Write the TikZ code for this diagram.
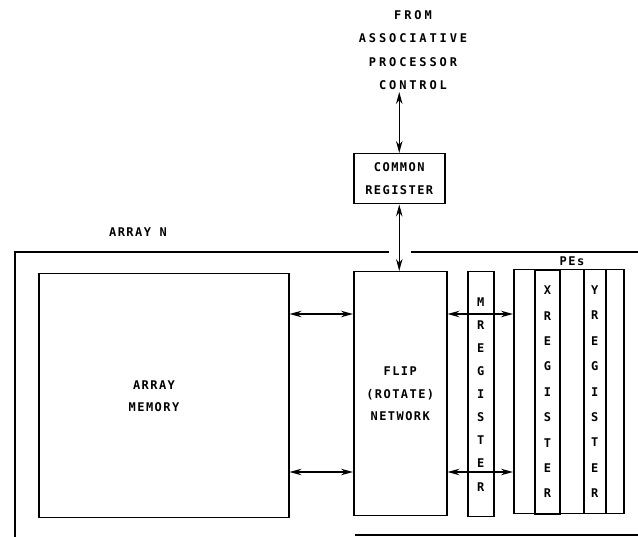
\documentclass[tikz,border=0pt]{standalone}
\usepackage{fontspec}
\newfontfamily\lblfont[LetterSpace=12]{DejaVu Sans Mono}
\newfontfamily\topfont[LetterSpace=24]{DejaVu Sans Mono}
\usetikzlibrary{arrows.meta,positioning}

\tikzset{
  blk/.style={draw,line width=1.5pt,inner sep=0pt,anchor=north west,align=center,font=\lblfont\bfseries\fontsize{12}{22.5}\selectfont},
  col/.style={blk,font=\lblfont\bfseries\fontsize{12}{25.4}\selectfont},
  txt/.style={align=center,inner sep=2pt,font=\lblfont\bfseries\fontsize{12}{22.5}\selectfont},
  conn/.style={{Stealth[length=12pt,width=6.5pt]}-{Stealth[length=12pt,width=6.5pt]},line width=1.3pt},
  frame/.style={line width=1.5pt}
}

\begin{document}
\begin{tikzpicture}[x=1pt,y=-1pt]
\useasboundingbox (0,0) rectangle (638,537);
% outer frame of the array
\draw[frame](15,537)--(15,252)--(389,252) (411,252)--(638,252)
(355,535)--(638,535);
\node[txt](arrayn) at (138,232) {ARRAY N};
% source of the control path
\node[txt,font=\topfont\bfseries\fontsize{12}{23.5}\selectfont](ctl) at (413,50) {FROM\\ASSOCIATIVE\\PROCESSOR\\CONTROL};
\node[blk,minimum width=91pt,minimum height=50pt](common) at (353,153) {COMMON\\REGISTER};
% boxes inside the array
\node[blk,minimum width=250pt,minimum height=244pt](mem) at (38,273) {};
\node[txt](memlbl) at (154,396) {ARRAY\\MEMORY};
\node[blk,minimum width=93pt,minimum height=244pt](flip) at (353,271) {FLIP\\(ROTATE)\\NETWORK};
\node[blk,minimum width=26pt,minimum height=245pt,font=\lblfont\bfseries\fontsize{12}{23.1}\selectfont](mreg) at (467,271) {M\\R\\E\\G\\I\\S\\T\\E\\R};
\node[blk,minimum width=110pt,minimum height=244pt](pes) at (513,269) {};
\node[txt,anchor=south](peslbl) at (572,268) {PEs};
\node[col,line width=2pt,minimum width=25pt,minimum height=244pt](xreg) at (534,269) {X\\R\\E\\G\\I\\S\\T\\E\\R};
\node[col,minimum width=22pt,minimum height=244pt](yreg) at (583,269) {Y\\R\\E\\G\\I\\S\\T\\E\\R};
% connections
\coordinate(upper) at (0,314);
\coordinate(lower) at (0,472);
\draw[conn](common.north|-ctl.south)--(common.north);
\draw[conn](common.south)--(common.south|-flip.north);
\draw[conn](mem.east|-upper)--(flip.west|-upper);
\draw[conn](mem.east|-lower)--(flip.west|-lower);
\draw[conn](flip.east|-upper)--(pes.west|-upper);
\draw[conn](flip.east|-lower)--(pes.west|-lower);
\end{tikzpicture}
\end{document}
